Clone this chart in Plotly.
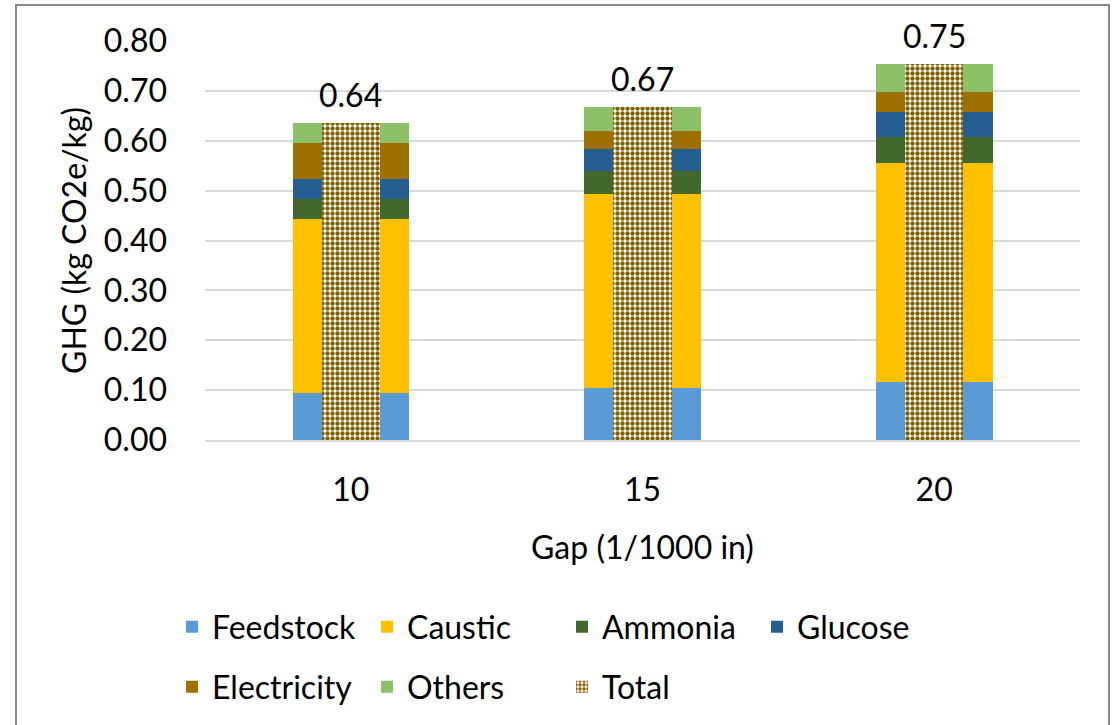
import plotly.graph_objects as go

categories = ["10", "15", "20"]
feedstock = [0.094, 0.105, 0.117]
caustic = [0.349, 0.389, 0.439]
ammonia = [0.040, 0.045, 0.051]
glucose = [0.040, 0.044, 0.051]
electricity = [0.072, 0.037, 0.040]
others = [0.041, 0.047, 0.056]
total = [0.636, 0.667, 0.754]

series = [
    ("Feedstock", feedstock, "#5B9BD5", "legend"),
    ("Caustic", caustic, "#FFC000", "legend"),
    ("Ammonia", ammonia, "#43682B", "legend"),
    ("Glucose", glucose, "#255E91", "legend"),
    ("Electricity", electricity, "#9E7000", "legend2"),
    ("Others", others, "#8CC168", "legend2"),
]

FONT = "Lato, 'Open Sans', sans-serif"
FS = 32

fig = go.Figure()
for name, vals, color, lg in series:
    fig.add_trace(go.Bar(
        x=categories, y=vals, name=name, width=0.4,
        marker=dict(color=color, line=dict(width=0)),
        legend=lg, xaxis="x", yaxis="y",
    ))

fig.add_trace(go.Bar(
    x=categories, y=total, name="Total", width=0.2,
    marker=dict(color="white", line=dict(width=0),
                pattern=dict(shape=".", fgcolor="#7F6000", bgcolor="white",
                             size=5, solidity=0.6, fillmode="replace")),
    legend="legend2", xaxis="x2", yaxis="y",
))

for i, t in enumerate(total):
    fig.add_annotation(x=i, y=t, xref="x", yref="y", text=f"{t:.2f}",
                       showarrow=False, yanchor="bottom", yshift=7,
                       font=dict(family=FONT, size=FS, color="black"))

fig.update_layout(
    width=1117, height=725,
    barmode="stack",
    paper_bgcolor="white", plot_bgcolor="white",
    margin=dict(l=205, r=37, t=41, b=285),
    font=dict(family=FONT, size=FS, color="black"),
    xaxis=dict(type="category", range=[-0.5, 2.5], showgrid=False,
               showline=True, linecolor="#D9D9D9", linewidth=1.5,
               ticks="", ticklabelstandoff=21,
               title=dict(text="Gap (1/1000 in)", standoff=29,
                          font=dict(family=FONT, size=FS))),
    xaxis2=dict(type="category", range=[-0.5, 2.5], overlaying="x",
                visible=False, matches="x"),
    yaxis=dict(range=[0, 0.8], dtick=0.1, tickformat=".2f",
               showgrid=True, gridcolor="#D9D9D9", gridwidth=1.5,
               zeroline=False, showline=False, ticks="",
               ticklabelstandoff=37,
               title=dict(text="GHG (kg CO2e/kg)", standoff=7,
                          font=dict(family=FONT, size=FS))),
    legend=dict(orientation="h", xref="container", yref="container",
                x=172 / 1117, y=(725 - 627) / 725, xanchor="left", yanchor="middle",
                entrywidth=150, entrywidthmode="pixels",
                font=dict(family=FONT, size=FS), bgcolor="rgba(0,0,0,0)",
                traceorder="normal"),
    legend2=dict(orientation="h", xref="container", yref="container",
                 x=172 / 1117, y=(725 - 687) / 725, xanchor="left", yanchor="middle",
                 entrywidth=150, entrywidthmode="pixels",
                 font=dict(family=FONT, size=FS), bgcolor="rgba(0,0,0,0)",
                 traceorder="normal"),
    showlegend=True,
)

fig.add_shape(type="rect", xref="paper", yref="paper",
              x0=(16 - 205) / 875, x1=(1109 - 205) / 875,
              y0=(440 - 740) / 399, y1=(440 - 5) / 399,
              line=dict(color="#898989", width=2), fillcolor="rgba(0,0,0,0)",
              layer="below")

fig.write_html("out.html", config={"displayModeBar": False},
               post_script="document.body.style.margin='0';document.body.style.overflow='hidden';")
